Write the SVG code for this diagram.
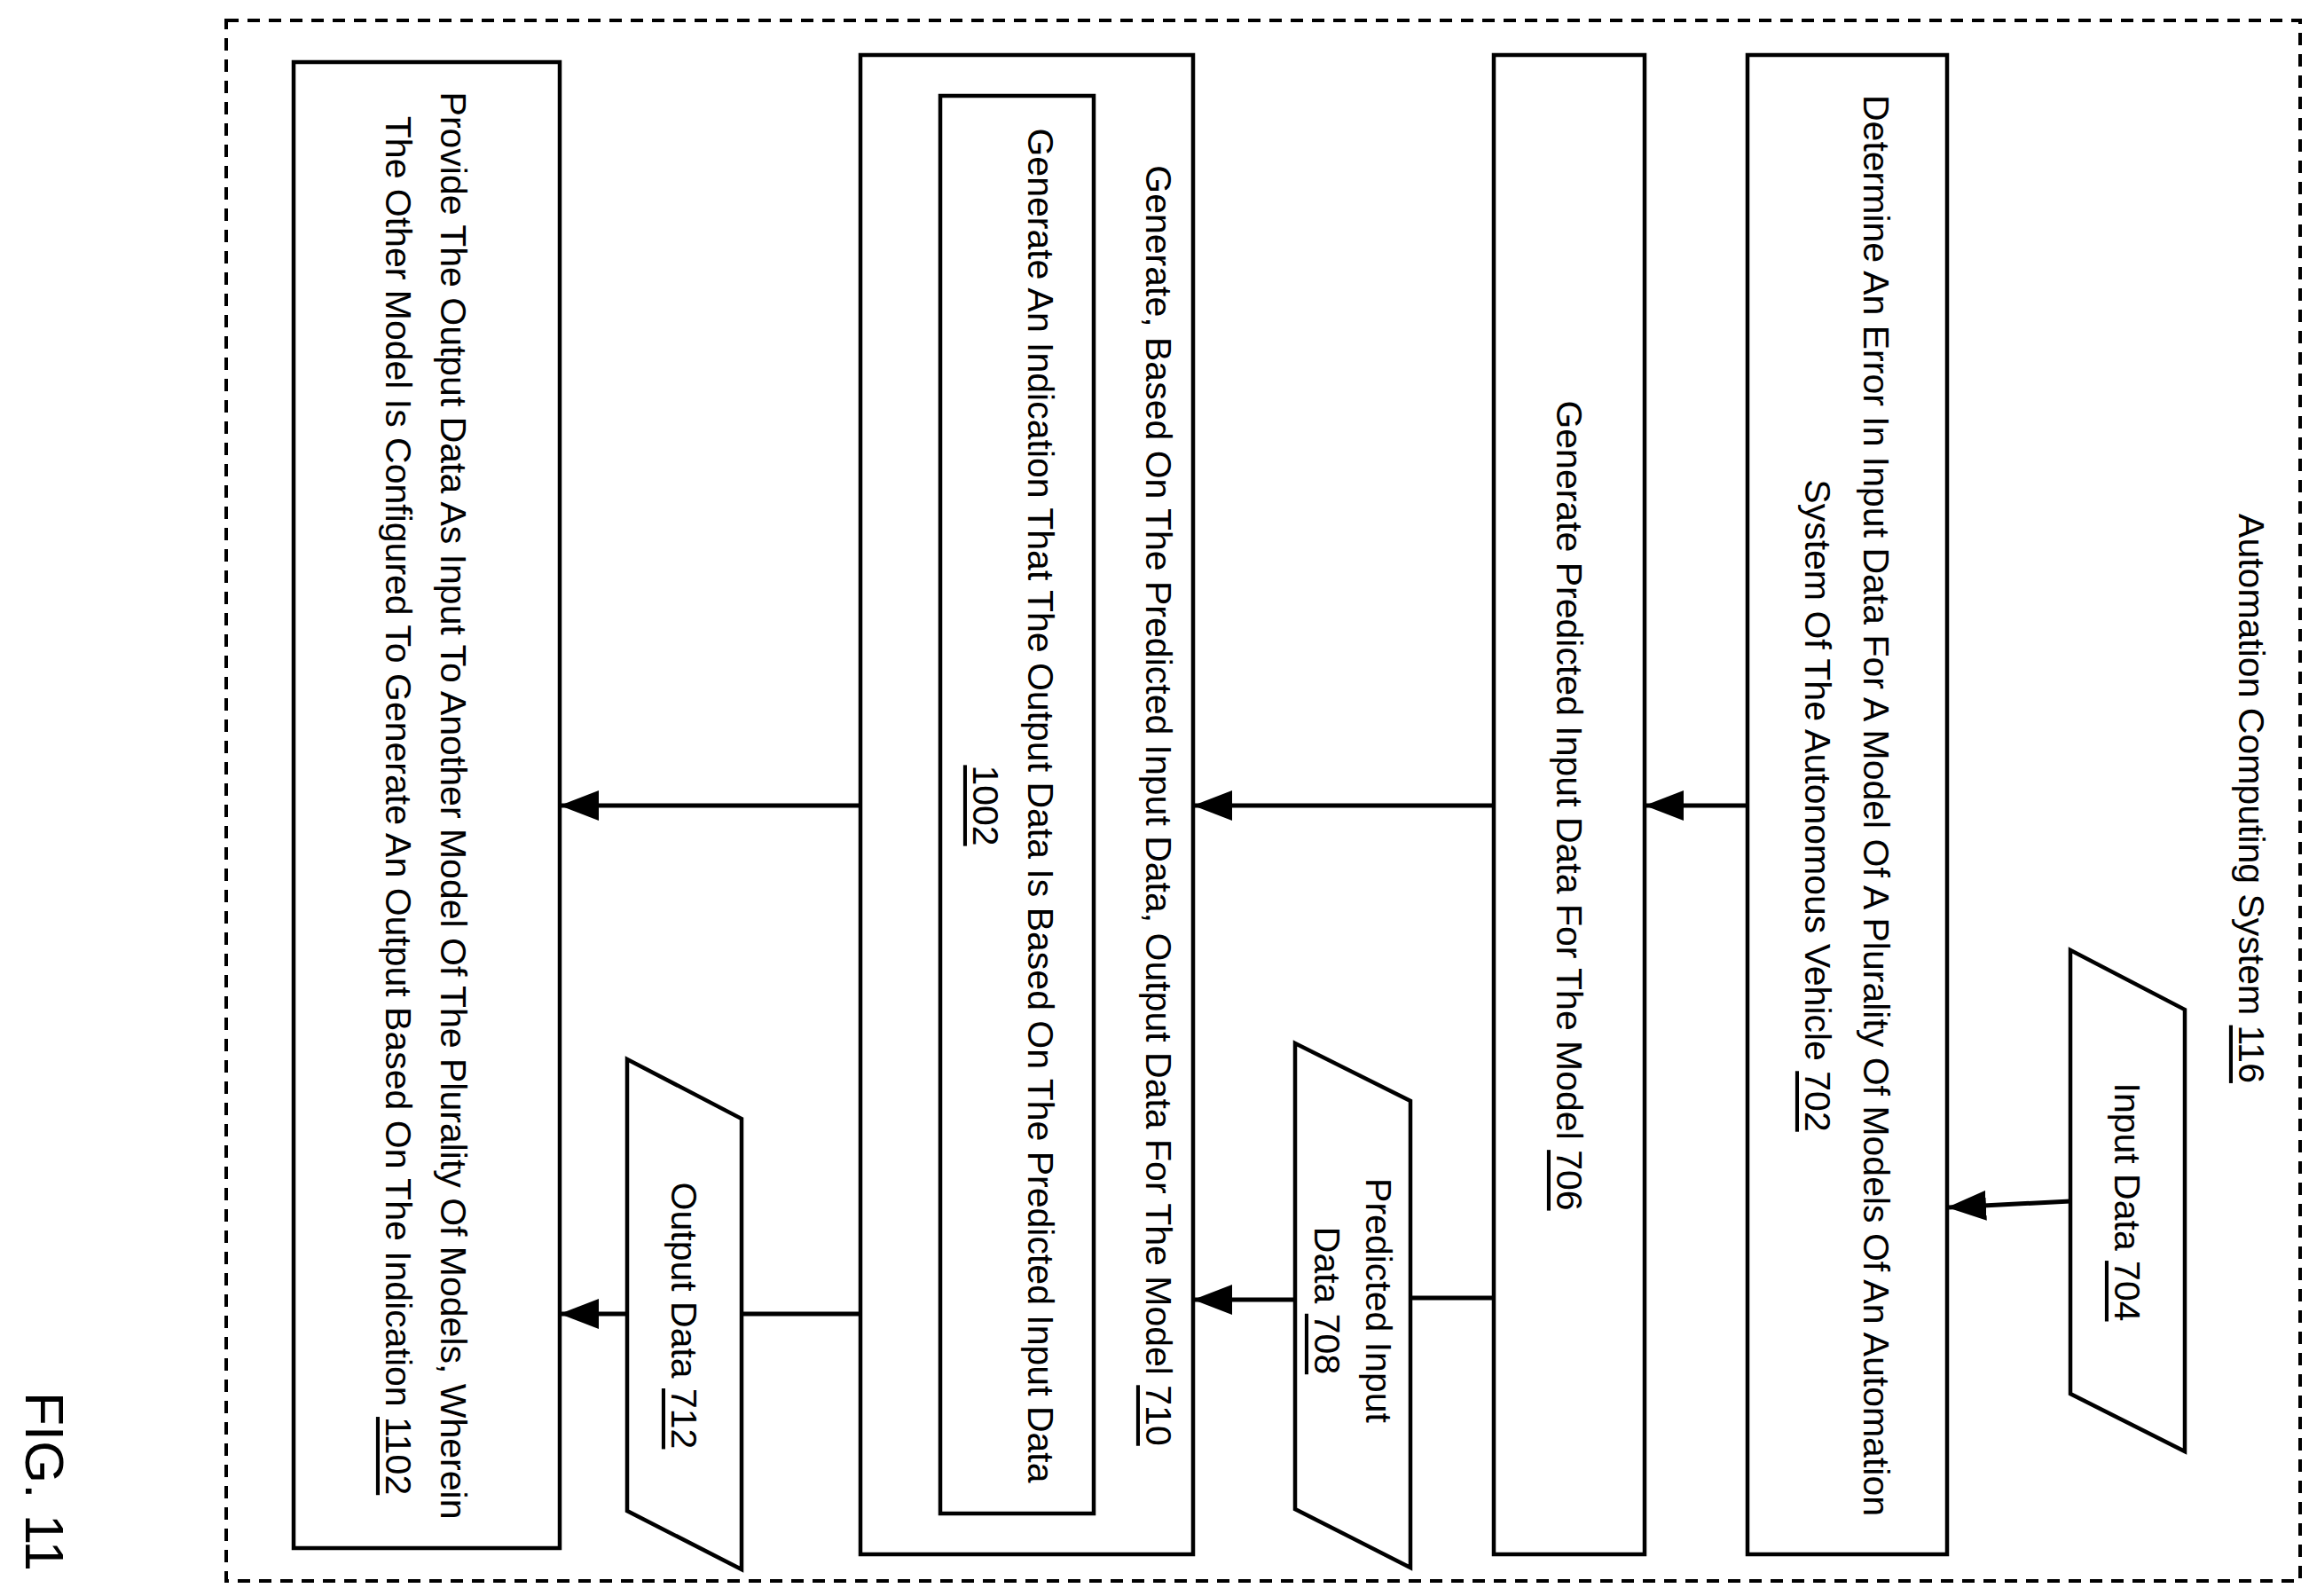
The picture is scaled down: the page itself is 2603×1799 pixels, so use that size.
<svg xmlns="http://www.w3.org/2000/svg" width="2603" height="1799" viewBox="0 0 2603 1799">
<style>
.b{fill:#fff;stroke:#000;stroke-width:4.5}
.t{font-family:"Liberation Sans Narrow","Liberation Sans",sans-serif;font-size:41px;fill:#000;text-anchor:middle;dominant-baseline:central}
.c{stroke:#000;stroke-width:5;fill:none;marker-end:url(#a)}
</style>
<defs><marker id="a" markerUnits="userSpaceOnUse" markerWidth="44" markerHeight="34" refX="42" refY="17" orient="auto"><path d="M0,0 L44,17 L0,34 Z" fill="#000"/></marker></defs>
<rect x="255" y="23" width="2338" height="1759" fill="none" stroke="#000" stroke-width="4" stroke-dasharray="14,10"/>
<text class="t" transform="translate(2538,900) rotate(90)">Automation Computing System <tspan text-decoration="underline">116</tspan></text>
<g id="n702"><rect class="b" x="1970" y="62" width="225" height="1690"/>
<text class="t" transform="translate(2082,908) rotate(90)"><tspan x="0" y="-33">Determine An Error In Input Data For A Model Of A Plurality Of Models Of An Automation</tspan><tspan x="0" y="33">System Of The Autonomous Vehicle <tspan text-decoration="underline">702</tspan></tspan></text></g>
<g id="n706"><rect class="b" x="1684" y="62" width="170" height="1690"/>
<text class="t" transform="translate(1769,908) rotate(90)">Generate Predicted Input Data For The Model <tspan text-decoration="underline">706</tspan></text></g>
<g id="n710"><rect class="b" x="970" y="62" width="375" height="1690"/>
<text class="t" transform="translate(1306,908) rotate(90)">Generate, Based On The Predicted Input Data, Output Data For The Model <tspan text-decoration="underline">710</tspan></text></g>
<g id="n1002"><rect class="b" x="1060" y="108" width="173" height="1598"/>
<text class="t" transform="translate(1142,908) rotate(90)"><tspan x="0" y="-31">Generate An Indication That The Output Data Is Based On The Predicted Input Data</tspan><tspan x="0" y="31" text-decoration="underline">1002</tspan></text></g>
<g id="n1102"><rect class="b" x="331" y="70" width="300" height="1675"/>
<text class="t" transform="translate(480,908) rotate(90)"><tspan x="0" y="-31">Provide The Output Data As Input To Another Model Of The Plurality Of Models, Wherein</tspan><tspan x="0" y="31">The Other Model Is Configured To Generate An Output Based On The Indication <tspan text-decoration="underline">1102</tspan></tspan></text></g>
<g id="n704"><polygon class="b" points="2334,1071 2463,1138 2463,1636 2334,1571"/>
<text class="t" transform="translate(2398,1355) rotate(90)">Input Data <tspan text-decoration="underline">704</tspan></text></g>
<g id="n708"><polygon class="b" points="1460,1176 1590,1241 1590,1767 1460,1701"/>
<text class="t" transform="translate(1525,1466) rotate(90)"><tspan x="0" y="-29">Predicted Input</tspan><tspan x="0" y="29">Data <tspan text-decoration="underline">708</tspan></tspan></text></g>
<g id="n712"><polygon class="b" points="707,1194 836,1261 836,1769 707,1703"/>
<text class="t" transform="translate(771,1483) rotate(90)">Output Data <tspan text-decoration="underline">712</tspan></text></g>
<g id="connectors">
<line class="c" x1="2334" y1="1354" x2="2197" y2="1361"/>
<line class="c" x1="1970" y1="908" x2="1856" y2="908"/>
<line class="c" x1="1684" y1="908" x2="1347" y2="908"/>
<line class="c" x1="970" y1="908" x2="633" y2="908"/>
<line stroke="#000" stroke-width="5" x1="1684" y1="1463" x2="1590" y2="1463"/>
<line class="c" x1="1460" y1="1465" x2="1347" y2="1465"/>
<line stroke="#000" stroke-width="5" x1="970" y1="1481" x2="836" y2="1481"/>
<line class="c" x1="707" y1="1481" x2="633" y2="1481"/>
</g>
<text transform="translate(50,1670) rotate(90)" font-family="Liberation Sans,sans-serif" font-size="62" text-anchor="middle" dominant-baseline="central">FIG. 11</text>
</svg>
